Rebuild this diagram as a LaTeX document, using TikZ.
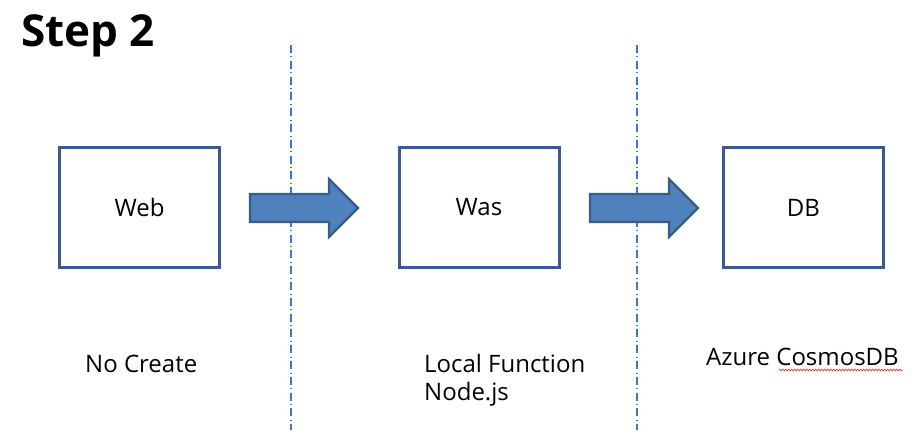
\documentclass[tikz,border=0pt]{standalone}
\usepackage{fontspec}
\setmainfont{Open Sans}
\usetikzlibrary{decorations.pathmorphing}
\definecolor{boxline}{RGB}{59,90,140}
\definecolor{arrfill}{RGB}{79,129,189}
\definecolor{arrline}{RGB}{56,93,138}
\definecolor{sepline}{RGB}{60,120,200}
\tikzset{
  stagebox/.style={draw=boxline, line width=3pt, fill=white, minimum width=160pt, minimum height=120pt, inner sep=0pt, font=\fontsize{24}{28}\selectfont},
  blockarrow/.style={draw=arrline, fill=arrfill, line width=2.2pt, line join=miter},
  sepdash/.style={draw=sepline, line width=1.1pt, dash pattern=on 8pt off 3.5pt on 0.8pt off 3.5pt},
  lbl/.style={anchor=base west, inner sep=0pt, font=\fontsize{24}{28}\selectfont, align=left},
}
\begin{document}
\begin{tikzpicture}[x=1pt,y=-1pt]
\useasboundingbox (0,0) rectangle (916,444);
% separators
\coordinate (s1t) at (291,45); \coordinate (s1b) at (291,430);
\coordinate (s2t) at (637,45); \coordinate (s2b) at (637,430);
\draw[sepdash] (s1t) -- (s1b);
\draw[sepdash] (s2t) -- (s2b);
% title
\node[anchor=base west, inner sep=0pt, font=\fontsize{44}{50}\selectfont\bfseries] (title) at (21,47) {Step 2};
% boxes
\node[stagebox] (web) at (139.5,207.5) {Web};
\node[stagebox] (was) at (479,207.5) {Was};
\node[stagebox] (db) at (803.5,207.5) {DB};
% block arrows
\coordinate (a1) at (250,208);
\draw[blockarrow] (a1) ++(0,-14) -- ++(79,0) -- ++(0,-15) -- ++(29,29) -- ++(-29,29) -- ++(0,-15) -- ++(-79,0) -- cycle;
\coordinate (a2) at (590,208);
\draw[blockarrow] (a2) ++(0,-14) -- ++(79,0) -- ++(0,-15) -- ++(29,29) -- ++(-29,29) -- ++(0,-15) -- ++(-79,0) -- cycle;
% labels
\node[lbl] (nocreate) at (85,372) {No Create};
\node[lbl] (local) at (424,400) {Local Function\\[0pt]Node.js};
\node[lbl] (azure) at (706,365) {Azure CosmosDB};
\coordinate (u1) at (779,370); \coordinate (u2) at (903,370);
\draw[red!85!white, line width=0.6pt, decorate, decoration={zigzag, segment length=3pt, amplitude=0.9pt}] (u1) -- (u2);
\end{tikzpicture}
\end{document}
